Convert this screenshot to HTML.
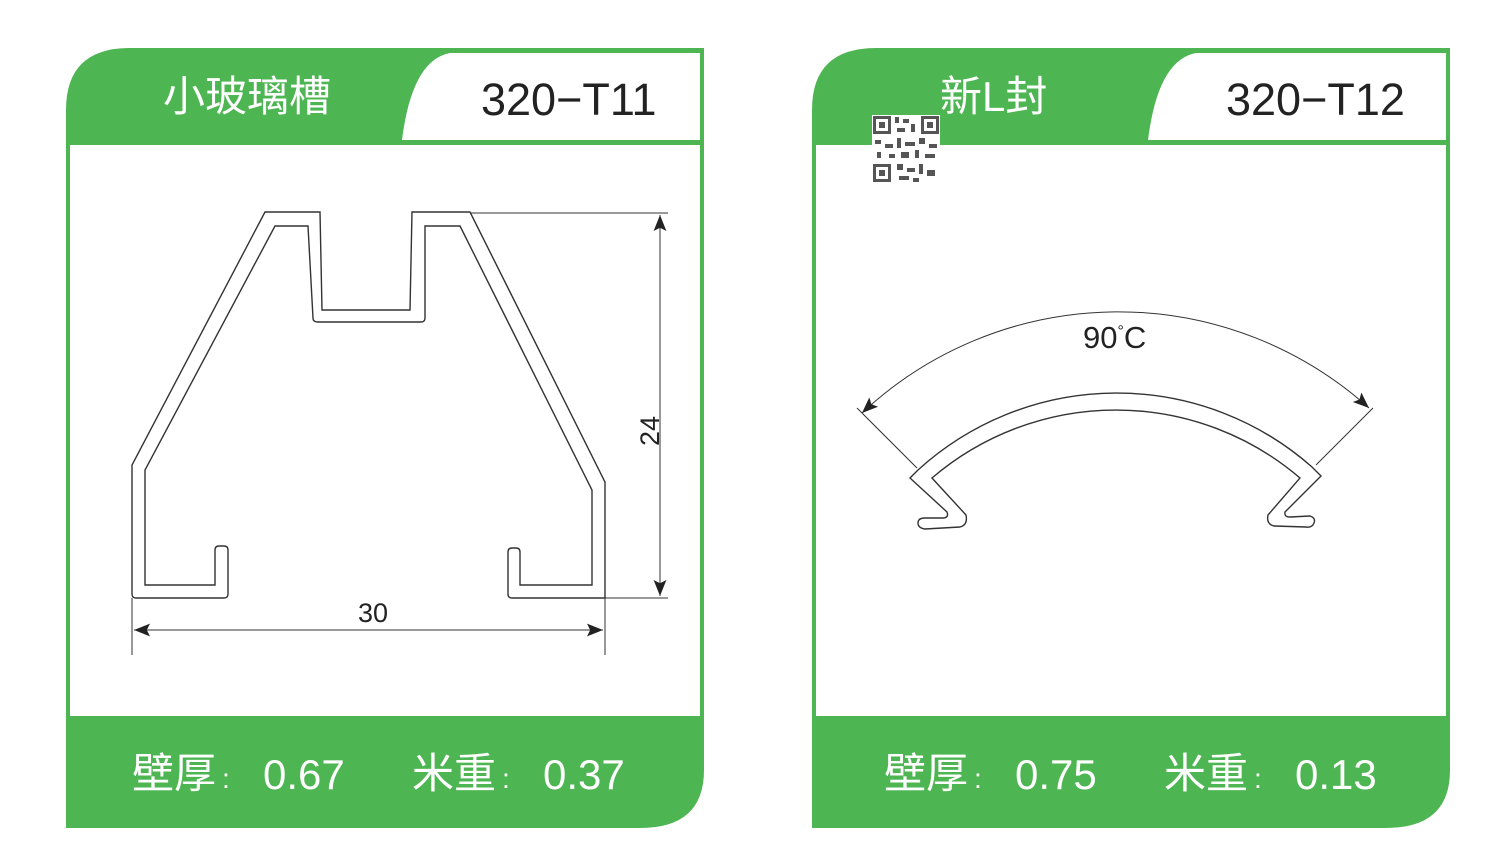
<!DOCTYPE html>
<html><head><meta charset="utf-8"><style>
body{margin:0;background:#fff;width:1500px;height:856px;overflow:hidden}
svg{display:block}
text{font-family:"Liberation Sans","Noto Sans CJK SC",sans-serif}
</style></head><body>
<svg width="1500" height="856" viewBox="0 0 1500 856">
<defs>
<marker id="a" viewBox="0 0 10 10" refX="10" refY="5" markerWidth="22" markerHeight="16" orient="auto-start-reverse" markerUnits="userSpaceOnUse"><path d="M0,1 L10,5 L0,9 L2,5 Z" fill="#222"/></marker>
</defs>
<g id="card">
<path d="M66,110 Q66,48 130,48 L704,48 L704,770 Q704,828 640,828 L66,828 Z" fill="#4db552"/>
<rect x="70" y="145" width="630" height="571" fill="#fff"/>
<path d="M700,53 L450,53 Q412,60 402,140 L700,140 Z" fill="#fff"/>
</g>
<use href="#card" transform="translate(746,0)"/>
<g fill="#fff" font-size="42"><text x="163" y="111">小玻璃槽</text><text x="940" y="111">新L封</text></g>
<g fill="#222" font-size="45"><text x="481" y="115">320−T11</text><text x="1226" y="115">320−T12</text></g>
<g fill="#fff" font-size="42">
<text x="132" y="788">壁厚</text><text x="222" y="788" font-size="28">:</text><text x="263" y="789">0.67</text>
<text x="412" y="788">米重</text><text x="502" y="788" font-size="28">:</text><text x="543" y="789">0.37</text>
<text x="884" y="788">壁厚</text><text x="974" y="788" font-size="28">:</text><text x="1015" y="789">0.75</text>
<text x="1164" y="788">米重</text><text x="1254" y="788" font-size="28">:</text><text x="1295" y="789">0.13</text>
</g>
<g fill="none" stroke="#333" stroke-width="1.4">
<path d="M265,212 L320,212 L322,310 L410,310 L412,212 L470,212 L605,482 L605,598 L512,598 Q508,598 508,594 L508,552 Q508,548 512,548 L516,548 Q520,548 520,552 L520,585 L592,585 L592,490 L460,226 L425,226 L425,318 Q425,322 421,322 L318,322 Q313,322 313,318 L308,226 L275,226 L145,470 L145,585 L215,585 L215,550 Q215,546 219,546 L224,546 Q228,546 228,550 L228,594 Q228,598 224,598 L136,598 Q132,598 132,594 L132,465 Z"/>
</g>
<g stroke="#333" stroke-width="1" fill="none">
<line x1="470" y1="213" x2="668" y2="213"/><line x1="605" y1="598" x2="668" y2="598"/>
<line x1="660" y1="215" x2="660" y2="596" marker-start="url(#a)" marker-end="url(#a)"/>
<line x1="132" y1="598" x2="132" y2="655"/><line x1="605" y1="598" x2="605" y2="655"/>
<line x1="134" y1="630" x2="603" y2="630" marker-start="url(#a)" marker-end="url(#a)"/>
</g>
<text x="358" y="622" font-size="27" fill="#222">30</text>
<text x="0" y="0" font-size="27" fill="#222" transform="translate(659,446) rotate(-90)">24</text>
<g stroke="#333" stroke-width="1" fill="none">
<path d="M862,413 A375,375 0 0 1 1369,408" marker-start="url(#a)" marker-end="url(#a)"/>
<line x1="857" y1="408" x2="917" y2="468"/><line x1="1373" y1="408" x2="1316" y2="465"/>
</g>
<g stroke="#333" stroke-width="1.4" fill="none">
<path d="M918,470 A295,295 0 0 1 1312,467 L1321,476 L1285,512 Q1284,517 1290,517 L1310,516 Q1316,518 1314,523 Q1312,528 1306,527 L1274,526 Q1266,524 1268,515 L1300,478 A283,283 0 0 0 932,478 L966,515 Q968,525 960,527 L925,529 Q918,528 918,523 Q918,518 925,518 L944,518 Q949,517 947,512 L910,478 Z"/>
</g>
<text x="1083" y="348" font-size="31" fill="#222">90<tspan font-size="16" dy="-12">°</tspan><tspan dy="12">C</tspan></text>
<g fill="#555">
<rect x="872" y="115" width="68" height="68" fill="#fff"/>
<rect x="873" y="116" width="18" height="18"/><rect x="876" y="119" width="12" height="12" fill="#fff"/><rect x="879" y="122" width="6" height="6"/>
<rect x="921" y="116" width="18" height="18"/><rect x="924" y="119" width="12" height="12" fill="#fff"/><rect x="927" y="122" width="6" height="6"/>
<rect x="873" y="164" width="18" height="18"/><rect x="876" y="167" width="12" height="12" fill="#fff"/><rect x="879" y="170" width="6" height="6"/>
<rect x="895" y="117" width="4" height="6"/><rect x="903" y="119" width="6" height="4"/><rect x="911" y="124" width="4" height="8"/><rect x="897" y="128" width="8" height="4"/>
<rect x="875" y="140" width="6" height="4"/><rect x="885" y="144" width="8" height="4"/><rect x="897" y="138" width="4" height="10"/><rect x="905" y="142" width="10" height="4"/><rect x="919" y="138" width="6" height="6"/><rect x="929" y="144" width="8" height="4"/>
<rect x="877" y="152" width="4" height="6"/><rect x="889" y="154" width="6" height="4"/><rect x="901" y="152" width="8" height="6"/><rect x="915" y="150" width="4" height="8"/><rect x="925" y="154" width="10" height="4"/>
<rect x="897" y="164" width="6" height="6"/><rect x="907" y="168" width="8" height="4"/><rect x="919" y="164" width="4" height="10"/><rect x="927" y="170" width="8" height="6"/><rect x="899" y="176" width="10" height="4"/><rect x="913" y="178" width="6" height="4"/>
</g>
</svg>
</body></html>
